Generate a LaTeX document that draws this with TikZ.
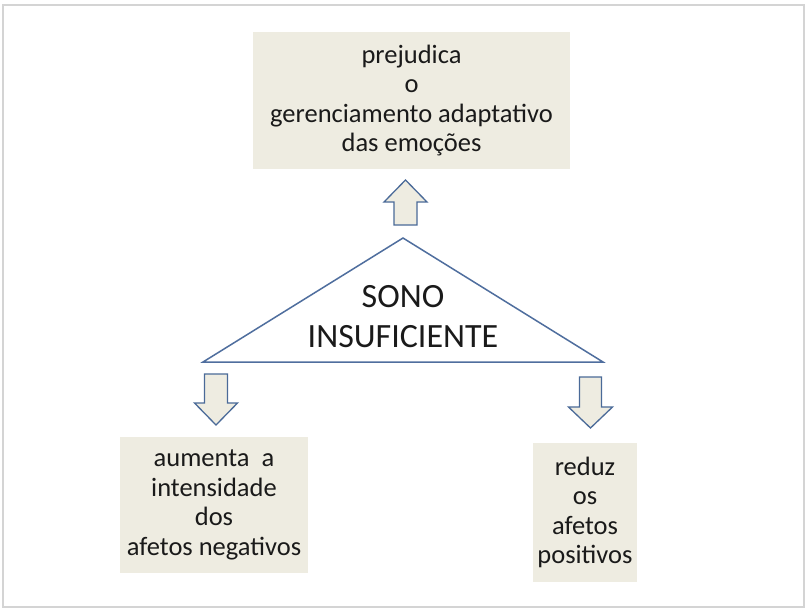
\documentclass[tikz,border=0pt]{standalone}
\usepackage{fontspec}
\setmainfont{Carlito}
\definecolor{boxfill}{HTML}{EEECE1}
\definecolor{arrowline}{HTML}{4A6A98}
\definecolor{triline}{HTML}{4F6E9E}
\definecolor{frameline}{HTML}{D4D4D4}
\definecolor{txt}{HTML}{1A1A1A}
\begin{document}
\begin{tikzpicture}[x=1pt,y=-1pt,
  tanbox/.style={fill=boxfill, draw=none, align=center, text=txt, inner sep=0pt,
    font=\fontsize{26.5}{29.5}\selectfont},
  blockarrow/.style={fill=boxfill, draw=arrowline, line width=1.3pt, line join=miter},
  tri/.style={draw=triline, fill=white, line width=1.5pt, line join=miter},
  bigtext/.style={align=center, text=txt, inner sep=0pt, font=\fontsize{34}{40}\selectfont}]
\useasboundingbox (0,0) rectangle (808,611);
\fill[white] (0,0) rectangle (808,611);
\draw[frameline, line width=1.2pt] (3,5) rectangle (804,607);

% boxes
\node[tanbox, minimum width=317pt, minimum height=137pt] (top) at (411.5,100.5)
  {prejudica\\o\\gerenciamento adaptativo\\das emoções};
\node[tanbox, minimum width=188pt, minimum height=136pt] (left) at (214,505)
  {aumenta\ \ a\\intensidade\\dos\\afetos negativos};
\node[tanbox, minimum width=104pt, minimum height=139pt] (right) at (585,512.5)
  {reduz\\os\\afetos\\positivos};

% triangle
\coordinate (apex) at (403,238);
\coordinate (bl) at (203,362);
\coordinate (br) at (603,362);
\draw[tri] (apex) -- (bl) -- (br) -- cycle;
\node[bigtext] (sono) at (403,316.5) {SONO\\INSUFICIENTE};

% up arrow
\coordinate (ua) at (405.5,180);
\draw[blockarrow] (ua) -- ++(21.5,22) -- ++(-10,0) -- ++(0,23) -- ++(-23,0) -- ++(0,-23) -- ++(-10,0) -- cycle;

% left down arrow
\coordinate (la) at (216,425);
\draw[blockarrow] (la) -- ++(21.5,-22) -- ++(-10,0) -- ++(0,-29) -- ++(-23,0) -- ++(0,29) -- ++(-10,0) -- cycle;

% right down arrow
\coordinate (ra) at (590.5,428);
\draw[blockarrow] (ra) -- ++(22,-21) -- ++(-11,0) -- ++(0,-30) -- ++(-22,0) -- ++(0,30) -- ++(-11,0) -- cycle;
\end{tikzpicture}
\end{document}
